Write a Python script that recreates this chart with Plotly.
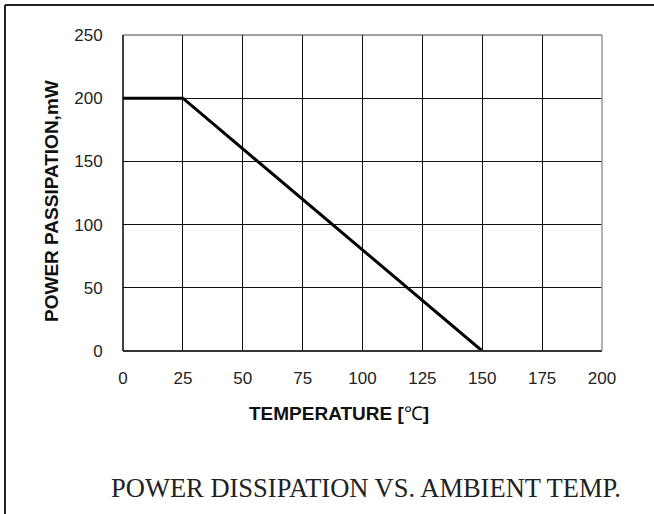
import plotly.graph_objects as go

temperature = [0, 25, 150]
power_mw = [200, 200, 0]
x_ticks = [0, 25, 50, 75, 100, 125, 150, 175, 200]
y_ticks = [0, 50, 100, 150, 200, 250]

W, H = 654, 514
L, R, T, B = 123, 602, 35, 351

def px(x):
    return (x - L) / (R - L)

def py(y):
    return (B - y) / (B - T)

fig = go.Figure()
fig.add_trace(go.Scatter(x=temperature, y=power_mw, mode="lines",
                         line=dict(color="black", width=3), showlegend=False))

tickfont = dict(family="Liberation Sans, Arial, sans-serif", size=17, color="#222")
fig.update_xaxes(range=[0, 200], tickvals=x_ticks, showgrid=True, gridcolor="#111", gridwidth=1,
                 zeroline=False, showline=False, tickfont=tickfont, ticks="outside",
                 ticklen=12, tickcolor="rgba(0,0,0,0)")
fig.update_yaxes(range=[0, 250], tickvals=y_ticks, showgrid=True, gridcolor="#111", gridwidth=1,
                 zeroline=False, showline=False, tickfont=tickfont, ticks="outside",
                 ticklen=16, tickcolor="rgba(0,0,0,0)")

shapes = [
    # plot frame
    dict(type="line", xref="paper", yref="paper", x0=0, y0=0, x1=0, y1=1, line=dict(color="black", width=1.5)),
    dict(type="line", xref="paper", yref="paper", x0=0, y0=0, x1=1, y1=0, line=dict(color="#333", width=2)),
    dict(type="line", xref="paper", yref="paper", x0=1, y0=0, x1=1, y1=1, line=dict(color="#999", width=1.5)),
    dict(type="line", xref="paper", yref="paper", x0=0, y0=1, x1=1, y1=1, line=dict(color="#444", width=1)),
    # outer page frame
    dict(type="line", xref="paper", yref="paper", x0=px(5), y0=py(5), x1=px(654), y1=py(5), line=dict(color="#222", width=2)),
    dict(type="line", xref="paper", yref="paper", x0=px(5), y0=py(5), x1=px(5), y1=py(514), line=dict(color="#222", width=2)),
]

annotations = [
    dict(text="<b>POWER PASSIPATION,mW</b>", xref="paper", yref="paper", x=px(51), y=py(201),
         textangle=-90, showarrow=False, xanchor="center", yanchor="middle",
         font=dict(family="Liberation Sans, Arial, sans-serif", size=19, color="#111")),
    dict(text="<b>TEMPERATURE [</b>℃<b>]</b>", xref="paper", yref="paper", x=px(339), y=py(413),
         showarrow=False, xanchor="center", yanchor="middle",
         font=dict(family="Liberation Sans, Arial, sans-serif", size=19, color="#111")),
    dict(text="POWER DISSIPATION VS. AMBIENT TEMP.", xref="paper", yref="paper", x=px(366), y=py(488),
         showarrow=False, xanchor="center", yanchor="middle",
         font=dict(family="Liberation Serif, Times New Roman, serif", size=26.5, color="#222")),
]

fig.update_layout(width=W, height=H, margin=dict(l=L, r=W - R, t=T, b=H - B),
                  plot_bgcolor="white", paper_bgcolor="white",
                  shapes=shapes, annotations=annotations)
fig.write_html("out.html", config={"displayModeBar": False},
               post_script="document.body.style.margin='0';document.body.style.overflow='hidden';")
